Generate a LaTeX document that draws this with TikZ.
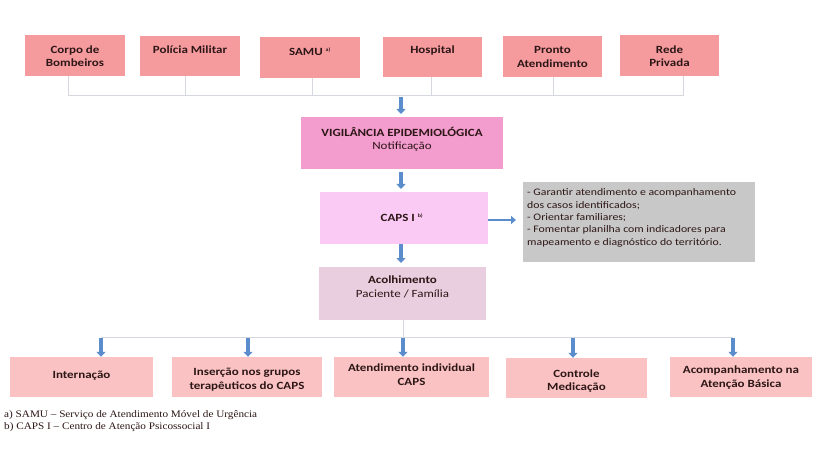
\documentclass[tikz,border=0pt]{standalone}
\usepackage{fontspec}
\setmainfont[FakeStretch=1.18]{Carlito}
\newfontfamily\serifnote[FakeStretch=1.12]{Liberation Serif}
\usetikzlibrary{arrows.meta}
\definecolor{topc}{RGB}{245,155,158}
\definecolor{vigc}{RGB}{243,156,206}
\definecolor{capsc}{RGB}{250,202,245}
\definecolor{grayc}{RGB}{200,200,200}
\definecolor{acolc}{RGB}{232,206,222}
\definecolor{botc}{RGB}{250,194,194}
\definecolor{linec}{RGB}{212,216,222}
\definecolor{arrc}{RGB}{91,141,204}
\definecolor{txtc}{RGB}{45,22,22}
\tikzset{
  box/.style={rectangle, inner sep=0pt, draw=none},
  lbl/.style={font=\fontsize{11}{13.5}\selectfont\bfseries, text=txtc, align=center, inner sep=0pt},
  conn/.style={draw=linec, line width=0.7pt},
  barrow/.style={draw=arrc, line width=3.6pt, -{Triangle[width=9pt,length=5pt]}},
}
\begin{document}
\begin{tikzpicture}[x=1pt,y=-1pt]
\path[use as bounding box, fill=white] (0,0) rectangle (830,449);

% top boxes
\node[box, fill=topc, minimum width=100pt, minimum height=41pt] (cb) at (75,55.5) {};
\node[box, fill=topc, minimum width=100pt, minimum height=40pt] (pm) at (190,56) {};
\node[box, fill=topc, minimum width=100pt, minimum height=41pt] (sa) at (310,57.5) {};
\node[box, fill=topc, minimum width=99pt, minimum height=40pt] (ho) at (432.5,57) {};
\node[box, fill=topc, minimum width=99pt, minimum height=41pt] (pa) at (552.5,56.5) {};
\node[box, fill=topc, minimum width=99pt, minimum height=41pt] (rp) at (669.5,55.5) {};
\node[lbl] (cbt) at (75,56) {Corpo de\\Bombeiros};
\node[lbl] (pmt) at (190,49.5) {Polícia Militar};
\node[lbl] (sat) at (310,51.5) {SAMU \textsuperscript{\fontsize{5}{6}\selectfont a)}};
\node[lbl] (hot) at (432.5,51) {Hospital};
\node[lbl] (pat) at (552.5,57) {Pronto\\Atendimento};
\node[lbl] (rpt) at (669.5,56) {Rede\\Privada};

% connector bus
\coordinate (busL) at (68,95);
\coordinate (busR) at (683,95);
\draw[conn] (68,76) -- (busL) -- (busR) -- (683,76);
\draw[conn] (185,76) -- (185,95);
\draw[conn] (312,78) -- (312,95);
\draw[conn] (431,77) -- (431,95);
\draw[conn] (553,77) -- (553,95);

% vigilancia
\node[box, fill=vigc, minimum width=202pt, minimum height=52pt] (vig) at (402,143) {};
\node[lbl, font=\fontsize{11}{13.5}\selectfont] (vigt) at (402,139.5) {\textbf{VIGILÂNCIA EPIDEMIOLÓGICA}\\Notificação};
\coordinate (a1s) at (401,97);
\coordinate (a1e) at (401,114);
\draw[barrow] (a1s) -- (a1e);

% CAPS
\node[box, fill=capsc, minimum width=168pt, minimum height=52pt] (caps) at (404,218) {};
\node[lbl] (capst) at (402,218) {CAPS I \textsuperscript{\fontsize{5}{6}\selectfont b)}};
\coordinate (a2s) at (401,172);
\coordinate (a2e) at (401,189);
\draw[barrow] (a2s) -- (a2e);

% gray box
\node[box, fill=grayc, minimum width=232pt, minimum height=80pt] (gb) at (639,222) {};
\node[font=\fontsize{10}{12.4}\selectfont, text=txtc, align=left, inner sep=0pt, anchor=north west] (gbt) at (527,188.5)
 {- Garantir atendimento e acompanhamento\\dos casos identificados;\\- Orientar familiares;\\- Fomentar planilha com indicadores para\\mapeamento e diagnóstico do território.};
\coordinate (rend) at (516,220);
\draw[draw=arrc, line width=2.6pt, -{Triangle[width=8pt,length=5pt]}] (caps.east |- rend) -- (rend);

% acolhimento
\node[box, fill=acolc, minimum width=167pt, minimum height=53pt] (acol) at (402.5,293.5) {};
\node[lbl, font=\fontsize{11}{13.5}\selectfont] (acolt) at (402.5,287) {\textbf{Acolhimento}\\Paciente / Família};
\draw[barrow] (caps.south -| 401,0) -- (401,263);

% bottom bus
\coordinate (b1) at (101,337);
\coordinate (b5) at (733,337);
\draw[conn] (acol.south -| 403,0) -- (403,337);
\draw[conn] (b1) -- (b5);

% bottom boxes
\node[box, fill=botc, minimum width=143pt, minimum height=40pt] (int) at (81.5,377) {};
\node[box, fill=botc, minimum width=150pt, minimum height=40pt] (ins) at (247,377) {};
\node[box, fill=botc, minimum width=155pt, minimum height=40pt] (ati) at (411.5,377) {};
\node[box, fill=botc, minimum width=141pt, minimum height=40pt] (con) at (576.5,378) {};
\node[box, fill=botc, minimum width=142pt, minimum height=40pt] (aco) at (741,377) {};
\node[lbl] (intt) at (81.5,376) {Internação};
\node[lbl] (inst) at (247,379.5) {Inserção nos grupos\\terapêuticos do CAPS};
\node[lbl] (atit) at (411.5,374.5) {Atendimento individual\\CAPS};
\node[lbl] (cont) at (576.5,381) {Controle\\Medicação};
\node[lbl] (acot) at (741,377.5) {Acompanhamento na\\Atenção Básica};

\draw[barrow] (101,338) -- (int.north -| 101,0);
\draw[barrow] (248,338) -- (ins.north -| 248,0);
\draw[barrow] (403,338) -- (ati.north -| 403,0);
\draw[barrow] (573,338) -- (con.north -| 573,0);
\draw[barrow] (733,338) -- (aco.north -| 733,0);

% footnotes
\node[font=\serifnote\fontsize{10}{12.5}\selectfont, text=txtc, align=left, inner sep=0pt, anchor=north west] (fn) at (4,410)
 {a) SAMU – Serviço de Atendimento Móvel de Urgência\\b) CAPS I – Centro de Atenção Psicossocial I};
\end{tikzpicture}
\end{document}
